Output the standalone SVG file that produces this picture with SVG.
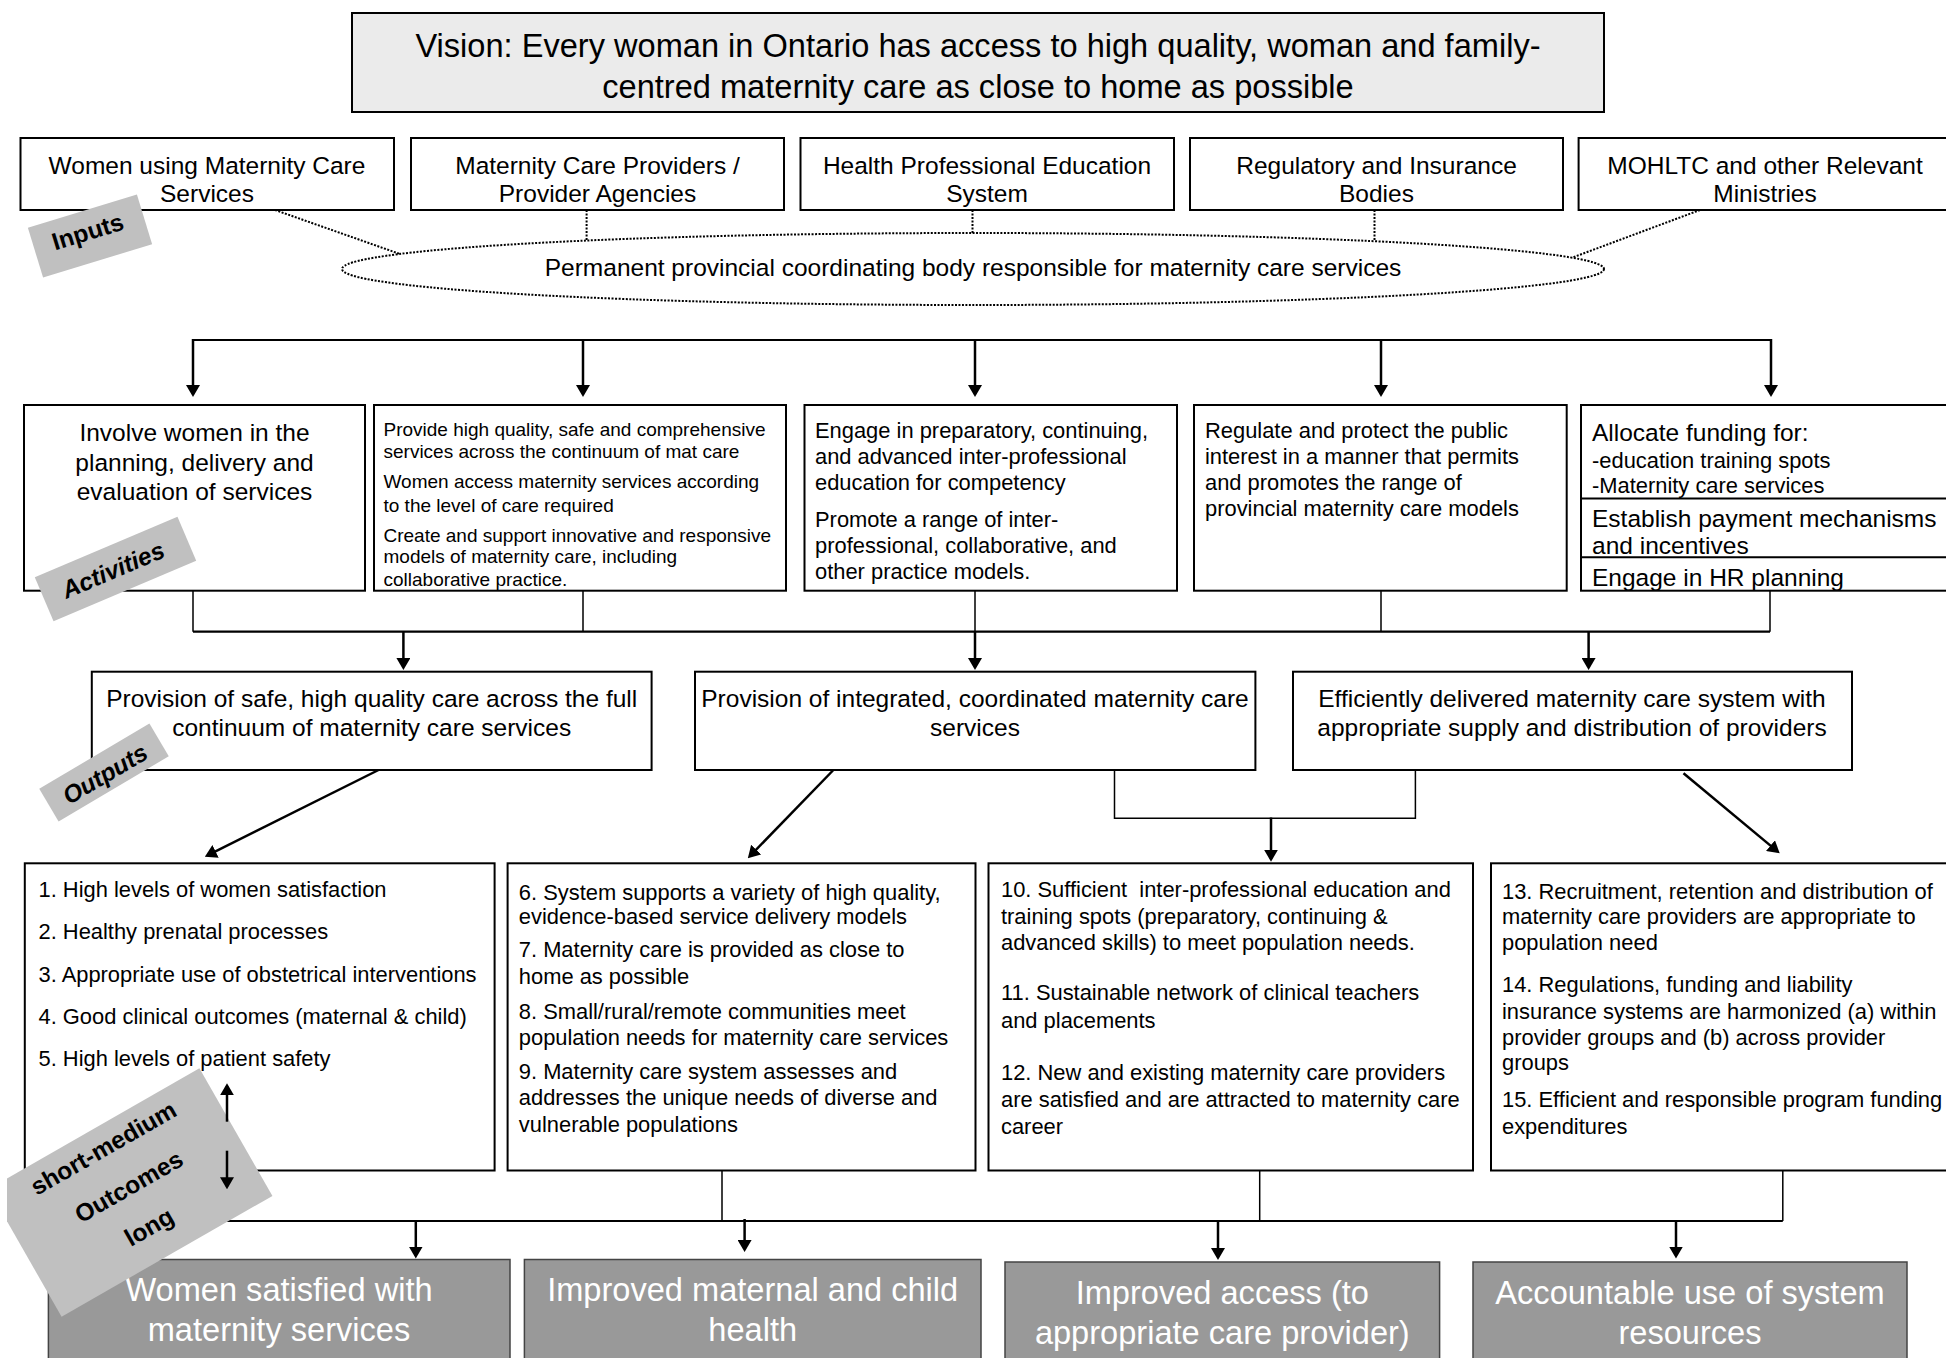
<svg xmlns="http://www.w3.org/2000/svg" width="1946" height="1358" viewBox="0 0 1946 1358">
<style>
.bx{fill:#fff;stroke:#000;stroke-width:2}
.vis{fill:#ebebeb;stroke:#000;stroke-width:2}
.res{fill:#999;stroke:#444;stroke-width:1.5}
.t{font-family:"Liberation Sans",Arial,sans-serif;fill:#000}
.w{fill:#fff}
.c{text-anchor:middle}
.s33{font-size:32.6px}
.s24{font-size:24.5px}
.s22{font-size:21.9px}
.s19{font-size:19px}
.ar{stroke:#000;stroke-width:2.5;fill:none;marker-end:url(#ah)}
.thin{stroke:#000;stroke-width:1.5;fill:none}
.bus{stroke:#000;stroke-width:2.2;fill:none}
.dot{stroke:#000;stroke-width:2;fill:none;stroke-dasharray:2 1.5}
.tag{fill:#c0c0c0}
.tt{font-family:"Liberation Sans",Arial,sans-serif;font-weight:bold;font-size:24.5px;fill:#000;text-anchor:middle}
.it{font-style:italic}
</style>
<defs>
<marker id="ah" markerUnits="userSpaceOnUse" viewBox="0 0 12 14" refX="9" refY="7" markerWidth="12" markerHeight="14" orient="auto">
<path d="M0,0 L12,7 L0,14 z" fill="#000"/>
</marker>
<clipPath id="pageclip"><rect x="7" y="0" width="1939" height="1358"/></clipPath>
</defs>
<rect x="0" y="0" width="1946" height="1358" fill="#fff"/>

<g id="vision">
<rect class="vis" x="352" y="13" width="1252" height="99"/>
<text class="t s33 c" x="978" y="57">Vision: Every woman in Ontario has access to high quality, woman and family-</text>
<text class="t s33 c" x="978" y="98">centred maternity care as close to home as possible</text>
</g>

<g id="input1"><rect class="bx" x="20.5" y="138" width="373.5" height="72"/>
<text class="t s24 c" x="207" y="173.7">Women using Maternity Care</text><text class="t s24 c" x="207" y="202.3">Services</text></g>
<g id="input2"><rect class="bx" x="411" y="138" width="373" height="72"/>
<text class="t s24 c" x="597.5" y="173.7">Maternity Care Providers /</text><text class="t s24 c" x="597.5" y="202.3">Provider Agencies</text></g>
<g id="input3"><rect class="bx" x="800.5" y="138" width="373.5" height="72"/>
<text class="t s24 c" x="987" y="173.7">Health Professional Education</text><text class="t s24 c" x="987" y="202.3">System</text></g>
<g id="input4"><rect class="bx" x="1190" y="138" width="373" height="72"/>
<text class="t s24 c" x="1376.5" y="173.7">Regulatory and Insurance</text><text class="t s24 c" x="1376.5" y="202.3">Bodies</text></g>
<g id="input5"><rect class="bx" x="1578.6" y="138" width="380" height="72"/>
<text class="t s24 c" x="1765" y="173.7">MOHLTC and other Relevant</text><text class="t s24 c" x="1765" y="202.3">Ministries</text></g>

<g id="coordinating-body">
<ellipse class="dot" cx="973" cy="269" rx="631" ry="36"/>
<text class="t s24 c" x="973" y="276">Permanent provincial coordinating body responsible for maternity care services</text>
</g>

<g id="activity1"><rect class="bx" x="24" y="405" width="341" height="185.7"/>
<text class="t s24 c" x="194.5" y="441">Involve women in the</text>
<text class="t s24 c" x="194.5" y="470.5">planning, delivery and</text>
<text class="t s24 c" x="194.5" y="499.5">evaluation of services</text></g>

<g id="activity2"><rect class="bx" x="374" y="405" width="412" height="185.7"/>
<text class="t s19" x="383.5" y="436">Provide high quality, safe and comprehensive</text>
<text class="t s19" x="383.5" y="457.5">services across the continuum of mat care</text>
<text class="t s19" x="383.5" y="488">Women access maternity services according</text>
<text class="t s19" x="383.5" y="511.5">to the level of care required</text>
<text class="t s19" x="383.5" y="541.5">Create and support innovative and responsive</text>
<text class="t s19" x="383.5" y="563">models of maternity care, including</text>
<text class="t s19" x="383.5" y="585.5">collaborative practice.</text></g>

<g id="activity3"><rect class="bx" x="804.5" y="405" width="372.5" height="185.7"/>
<text class="t s22" x="815" y="437.7">Engage in preparatory, continuing,</text>
<text class="t s22" x="815" y="463.7">and advanced inter-professional</text>
<text class="t s22" x="815" y="489.7">education for competency</text>
<text class="t s22" x="815" y="527">Promote a range of inter-</text>
<text class="t s22" x="815" y="553">professional, collaborative, and</text>
<text class="t s22" x="815" y="579">other practice models.</text></g>

<g id="activity4"><rect class="bx" x="1194" y="405" width="372.7" height="185.7"/>
<text class="t s22" x="1205" y="437.7">Regulate and protect the public</text>
<text class="t s22" x="1205" y="463.7">interest in a manner that permits</text>
<text class="t s22" x="1205" y="489.7">and promotes the range of</text>
<text class="t s22" x="1205" y="515.7">provincial maternity care models</text></g>

<g id="activity5"><rect class="bx" x="1581" y="405" width="380" height="185.7"/>
<line class="thin" x1="1581" y1="498.5" x2="1961" y2="498.5" style="stroke-width:2"/>
<line class="thin" x1="1581" y1="557.3" x2="1961" y2="557.3" style="stroke-width:2"/>
<text class="t s24" x="1592" y="441">Allocate funding for:</text>
<text class="t s22" x="1592" y="467.5">-education training spots</text>
<text class="t s22" x="1592" y="492.5">-Maternity care services</text>
<text class="t s24" x="1592" y="527">Establish payment mechanisms</text>
<text class="t s24" x="1592" y="553.5">and incentives</text>
<text class="t s24" x="1592" y="586">Engage in HR planning</text></g>

<g id="output1"><rect class="bx" x="91.8" y="671.7" width="559.8" height="98.3"/>
<text class="t s24 c" x="371.7" y="707">Provision of safe, high quality care across the full</text>
<text class="t s24 c" x="371.7" y="736">continuum of maternity care services</text></g>
<g id="output2"><rect class="bx" x="695" y="671.7" width="560.4" height="98.3"/>
<text class="t s24 c" x="975" y="707">Provision of integrated, coordinated maternity care</text>
<text class="t s24 c" x="975" y="736">services</text></g>
<g id="output3"><rect class="bx" x="1293" y="671.7" width="559" height="98.3"/>
<text class="t s24 c" x="1572" y="707">Efficiently delivered maternity care system with</text>
<text class="t s24 c" x="1572" y="736">appropriate supply and distribution of providers</text></g>

<g id="outcomes1"><rect class="bx" x="24.8" y="863.3" width="469.8" height="307.2"/>
<text class="t s22" x="38.5" y="896.5">1. High levels of women satisfaction</text>
<text class="t s22" x="38.5" y="938.7">2. Healthy prenatal processes</text>
<text class="t s22" x="38.5" y="982">3. Appropriate use of obstetrical interventions</text>
<text class="t s22" x="38.5" y="1023.7">4. Good clinical outcomes (maternal &amp; child)</text>
<text class="t s22" x="38.5" y="1066.3">5. High levels of patient safety</text></g>

<g id="outcomes2"><rect class="bx" x="507.6" y="863.3" width="467.9" height="307.2"/>
<text class="t s22" x="518.8" y="899.7">6. System supports a variety of high quality,</text>
<text class="t s22" x="518.8" y="923.5">evidence-based service delivery models</text>
<text class="t s22" x="518.8" y="957">7. Maternity care is provided as close to</text>
<text class="t s22" x="518.8" y="983.7">home as possible</text>
<text class="t s22" x="518.8" y="1018.7">8. Small/rural/remote communities meet</text>
<text class="t s22" x="518.8" y="1045.3">population needs for maternity care services</text>
<text class="t s22" x="518.8" y="1078.7">9. Maternity care system assesses and</text>
<text class="t s22" x="518.8" y="1105.3">addresses the unique needs of diverse and</text>
<text class="t s22" x="518.8" y="1132">vulnerable populations</text></g>

<g id="outcomes3"><rect class="bx" x="988.5" y="863.3" width="484.5" height="307.2"/>
<text class="t s22" x="1001" y="897" xml:space="preserve">10. Sufficient  inter-professional education and</text>
<text class="t s22" x="1001" y="923.7">training spots (preparatory, continuing &amp;</text>
<text class="t s22" x="1001" y="950.3">advanced skills) to meet population needs.</text>
<text class="t s22" x="1001" y="1000.3">11. Sustainable network of clinical teachers</text>
<text class="t s22" x="1001" y="1028">and placements</text>
<text class="t s22" x="1001" y="1080.3">12. New and existing maternity care providers</text>
<text class="t s22" x="1001" y="1107">are satisfied and are attracted to maternity care</text>
<text class="t s22" x="1001" y="1133.7">career</text></g>

<g id="outcomes4"><rect class="bx" x="1491" y="863.3" width="470" height="307.2"/>
<text class="t s22" x="1502" y="898.7">13. Recruitment, retention and distribution of</text>
<text class="t s22" x="1502" y="923.7">maternity care providers are appropriate to</text>
<text class="t s22" x="1502" y="950.3">population need</text>
<text class="t s22" x="1502" y="992">14. Regulations, funding and liability</text>
<text class="t s22" x="1502" y="1018.7">insurance systems are harmonized (a) within</text>
<text class="t s22" x="1502" y="1044.7">provider groups and (b) across provider</text>
<text class="t s22" x="1502" y="1070.3">groups</text>
<text class="t s22" x="1502" y="1107">15. Efficient and responsible program funding</text>
<text class="t s22" x="1502" y="1133.7">expenditures</text></g>

<g id="result1"><rect class="res" x="48.4" y="1259.5" width="461.6" height="110"/>
<text class="t w s33 c" x="279" y="1300.5">Women satisfied with</text>
<text class="t w s33 c" x="279" y="1340.5">maternity services</text></g>
<g id="result2"><rect class="res" x="524.4" y="1259.5" width="456.6" height="110"/>
<text class="t w s33 c" x="752.7" y="1300.5">Improved maternal and child</text>
<text class="t w s33 c" x="752.7" y="1340.5">health</text></g>
<g id="result3"><rect class="res" x="1005" y="1262" width="434.6" height="110"/>
<text class="t w s33 c" x="1222.3" y="1303.5">Improved access (to</text>
<text class="t w s33 c" x="1222.3" y="1343.5">appropriate care provider)</text></g>
<g id="result4"><rect class="res" x="1473" y="1262" width="434" height="110"/>
<text class="t w s33 c" x="1690" y="1303.5">Accountable use of system</text>
<text class="t w s33 c" x="1690" y="1343.5">resources</text></g>

<g id="connectors">
<path class="dot" d="M275,210 L400,254"/>
<path class="dot" d="M586.6,210 V240.6"/>
<path class="dot" d="M972.5,210 V233"/>
<path class="dot" d="M1374.5,210 V241"/>
<path class="dot" d="M1700,210 L1572,257.7"/>

<path class="bus" d="M193,340 H1771"/>
<line class="ar" x1="193" y1="339" x2="193" y2="394"/>
<line class="ar" x1="583" y1="339" x2="583" y2="394"/>
<line class="ar" x1="975" y1="339" x2="975" y2="394"/>
<line class="ar" x1="1381" y1="339" x2="1381" y2="394"/>
<line class="ar" x1="1771" y1="339" x2="1771" y2="394"/>

<path class="thin" d="M193,590.7 V631.7 M583,590.7 V631.7 M975,590.7 V631.7 M1381,590.7 V631.7 M1770,590.7 V631.7"/>
<path class="bus" d="M193,631.7 H1770"/>
<line class="ar" x1="403.4" y1="631.7" x2="403.4" y2="667"/>
<line class="ar" x1="975" y1="631.7" x2="975" y2="667"/>
<line class="ar" x1="1588.6" y1="631.7" x2="1588.6" y2="667"/>

<line class="ar" x1="378.5" y1="770" x2="207.5" y2="855.4"/>
<line class="ar" x1="833.4" y1="770" x2="749.9" y2="856.1"/>
<line class="ar" x1="1683.5" y1="773.3" x2="1777.4" y2="851.4"/>
<path class="thin" d="M1114.5,770 V818.3 H1415.4 V770"/>
<line class="ar" x1="1271" y1="817.5" x2="1271" y2="858.7"/>

<path class="thin" d="M722,1170.5 V1221 M1259.7,1170.5 V1221 M1782.8,1170.5 V1221"/>
<path class="bus" d="M200,1221 H1782.8"/>
<line class="ar" x1="415.8" y1="1221" x2="415.8" y2="1255.5"/>
<line class="ar" x1="744.6" y1="1219" x2="744.6" y2="1249"/>
<line class="ar" x1="1218" y1="1221" x2="1218" y2="1257"/>
<line class="ar" x1="1676" y1="1221" x2="1676" y2="1255.5"/>
</g>

<g id="tag-inputs">
<rect class="tag" x="-57" y="-26" width="114" height="52" transform="translate(90,236) rotate(-17)"/>
<text class="tt" transform="translate(89,236) rotate(-17)" x="0" y="4">Inputs</text>
</g>
<g id="tag-activities">
<rect class="tag" x="-77.5" y="-24" width="155" height="48" transform="translate(115.5,569) rotate(-23)"/>
<text class="tt it" transform="translate(113,570) rotate(-23)" x="0" y="8.5">Activities</text>
</g>
<g id="tag-outputs">
<rect class="tag" x="-64" y="-19" width="128" height="38" transform="translate(104,772.5) rotate(-30.6)"/>
<text class="tt it" transform="translate(105,774) rotate(-30.6)" x="0" y="8.5">Outputs</text>
</g>
<g id="tag-outcomes">
<g clip-path="url(#pageclip)">
<rect class="tag" x="-121.5" y="-73.5" width="243" height="147" transform="translate(130.5,1192.5) rotate(-29.8)"/>
</g>
<g transform="translate(130.5,1192.5) rotate(-29.8)">
<text class="tt" x="-1.5" y="-43.5">short-medium</text>
<text class="tt" x="1.5" y="2.5">Outcomes</text>
<text class="tt" x="-1" y="47.5">long</text>
</g>
<line class="ar" x1="227" y1="1121.7" x2="227" y2="1086.3"/>
<line class="ar" x1="227" y1="1150.7" x2="227" y2="1186.3"/>
</g>
</svg>
